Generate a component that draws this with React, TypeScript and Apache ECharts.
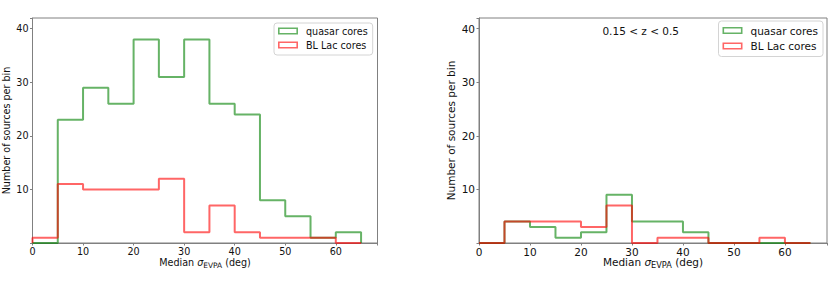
import React, { useEffect, useRef } from 'react';
import * as echarts from 'echarts';

// Histogram bin edges (deg)
const binEdges = [0, 5, 10, 15, 20, 25, 30, 35, 40, 45, 50, 55, 60, 65];
// Left panel: all sources
const quasarAll = [0, 23, 29, 26, 38, 31, 38, 26, 24, 8, 5, 1, 2];
const blLacAll = [1, 11, 10, 10, 10, 12, 2, 7, 2, 1, 1, 1, 0];
// Right panel: 0.15 < z < 0.5
const quasarZ = [0, 4, 3, 1, 2, 9, 4, 4, 2, 0, 0, 0, 0];
const blLacZ = [0, 4, 4, 4, 3, 7, 0, 1, 1, 0, 0, 1, 0];

const seriesNames = ['quasar cores', 'BL Lac cores'];
const yTicks = [0, 10, 20, 30, 40];
const xTicks = [0, 10, 20, 30, 40, 50, 60];
const zLabel = '0.15 < z < 0.5';

const GREEN = 'rgba(0,128,0,0.6)';
const RED = 'rgba(255,0,0,0.6)';
const FONT = 'DejaVu Sans';
const TXT = '#111111';

function stepPoints(edges: number[], vals: number[]): number[][] {
  const pts: number[][] = [[edges[0], 0]];
  for (let i = 0; i < vals.length; i++) {
    pts.push([edges[i], vals[i]]);
    pts.push([edges[i + 1], vals[i]]);
  }
  pts.push([edges[vals.length], 0]);
  return pts;
}

export default function App() {
  const ref = useRef<HTMLDivElement>(null);
  useEffect(() => {
    if (!ref.current) return;
    const chart = echarts.init(ref.current, undefined, { renderer: 'svg' });
    const fs = [9.6, 10.5];
    const grids = [
      { left: 26.5, top: 18, width: 351, height: 225 },
      { left: 479, top: 18, width: 350.5, height: 225 },
    ];
    const xAxes = grids.map((_, i) => ({
      type: 'value',
      gridIndex: i,
      min: 0,
      max: 68.25,
      interval: 10,
      splitLine: { show: false },
      axisLine: { lineStyle: { color: '#808080', width: 1 } },
      axisTick: { length: 2.5, lineStyle: { color: '#808080' } },
      axisLabel: {
        color: TXT,
        fontSize: fs[i],
        fontFamily: FONT,
        margin: 3,
        formatter: (v: number) => (xTicks.includes(v) ? String(v) : ''),
      },
      name: 'Median {i|σ}{s|EVPA} (deg)',
      nameLocation: 'middle',
      nameMoveOverlap: false,
      nameGap: 12,
      nameTextStyle: {
        color: TXT,
        fontSize: fs[i],
        fontFamily: FONT,
        lineHeight: 14,
        rich: {
          i: { fontStyle: 'italic', fontSize: fs[i], fontFamily: FONT, color: TXT },
          s: { fontSize: fs[i] * 0.78, fontFamily: FONT, color: TXT, verticalAlign: 'bottom', lineHeight: 10 },
        },
      },
    }));
    const yAxes = grids.map((_, i) => ({
      type: 'value',
      gridIndex: i,
      min: 0,
      max: 42,
      interval: 10,
      splitLine: { show: false },
      axisLine: { lineStyle: { color: '#808080', width: 1 } },
      axisTick: { length: 2.5, lineStyle: { color: '#808080' } },
      axisLabel: {
        color: TXT,
        fontSize: fs[i],
        fontFamily: FONT,
        margin: 4,
        formatter: (v: number) => (v !== 0 && yTicks.includes(v) ? String(v) : ''),
      },
      name: 'Number of sources per bin',
      nameLocation: 'middle',
      nameGap: i === 0 ? 21.5 : 23,
      nameTextStyle: { color: TXT, fontSize: fs[i], fontFamily: FONT },
    }));
    const mk = (name: string, color: string, vals: number[], idx: number) => ({
      type: 'line',
      name,
      xAxisIndex: idx,
      yAxisIndex: idx,
      data: stepPoints(binEdges, vals),
      symbol: 'none',
      lineStyle: { color, width: 2 },
      itemStyle: { color },
      silent: true,
    });
    const icon = 'path://M0,0H20V7H0Z M1.6,1.6V5.4H18.4V1.6Z';
    const legendBase = (i: number) => ({
      orient: 'vertical',
      data: seriesNames,
      icon,
      itemWidth: 20,
      itemHeight: 7,
      selectedMode: false,
      borderColor: '#d4d4d4',
      borderWidth: 1,
      borderRadius: 3,
      backgroundColor: 'rgba(255,255,255,0.8)',
      textStyle: {
        fontSize: fs[i],
        fontFamily: FONT,
        color: TXT,
        padding: [0, 0, 0, 3],
        lineHeight: i === 0 ? 12 : 13,
      },
    });
    chart.setOption({
      animation: false,
      backgroundColor: '#ffffff',
      grid: grids.map((g) => ({
        ...g,
        show: true,
        borderColor: '#808080',
        borderWidth: 1,
        backgroundColor: 'transparent',
      })),
      xAxis: xAxes,
      yAxis: yAxes,
      legend: [
        { ...legendBase(0), left: 274, top: 23, itemGap: 2, padding: [2, 5, 4, 4] },
        { ...legendBase(1), left: 718.5, top: 21, itemGap: 2.5, padding: [3, 5, 4, 4] },
      ],
      graphic: [
        {
          type: 'text',
          x: 640.7,
          y: 31,
          style: {
            text: zLabel,
            fontSize: fs[1],
            fontFamily: FONT,
            fill: TXT,
            textAlign: 'center',
            textVerticalAlign: 'middle',
          },
        },
      ],
      series: [
        mk(seriesNames[0], GREEN, quasarAll, 0),
        mk(seriesNames[1], RED, blLacAll, 0),
        mk(seriesNames[0], GREEN, quasarZ, 1),
        mk(seriesNames[1], RED, blLacZ, 1),
      ],
    });
    return () => chart.dispose();
  }, []);
  return (
    <div
      ref={ref}
      style={{ position: 'fixed', left: 0, top: 0, width: 830, height: 286, background: '#fff' }}
    />
  );
}
